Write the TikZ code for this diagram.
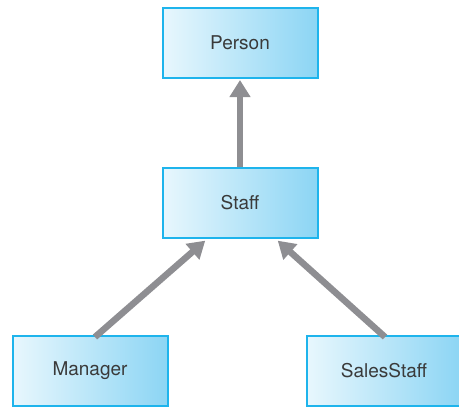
\documentclass[tikz,border=0pt]{standalone}
\usepackage{fontspec}
\setmainfont{TeX Gyre Heros}
\usetikzlibrary{arrows.meta}
\definecolor{boxborder}{HTML}{1EB4EC}
\definecolor{boxleft}{HTML}{E8F7FD}
\definecolor{boxright}{HTML}{8CD5F4}
\definecolor{arrowgray}{HTML}{8E8E92}
\definecolor{txtgray}{HTML}{3A3A3A}
\begin{document}
\begin{tikzpicture}[x=1pt,y=-1pt,
  classbox/.style={draw=boxborder, line width=2pt, left color=boxleft, right color=boxright,
    minimum width=155pt, minimum height=70pt, inner sep=0pt, font=\fontsize{19}{22}\selectfont, text=txtgray},
  inherit/.style={draw=arrowgray, line width=6.5pt, -{Triangle[width=20pt,length=17pt]}, arrowgray, shorten >=1pt}]
\useasboundingbox (0,0) rectangle (459,407);
\node[classbox] (person) at (240,43) {Person};
\node[classbox] (staff) at (240,203) {Staff};
\node[classbox] (manager) at (90,371) {Manager};
\node[classbox] (sales) at (384,371) {SalesStaff};
\coordinate (m0) at (95,337);
\coordinate (m1) at (206,240);
\coordinate (s0) at (385,337);
\coordinate (s1) at (277,240);
\draw[inherit] (staff.north) -- (person.south);
\draw[inherit] (m0) -- (m1);
\draw[inherit] (s0) -- (s1);
\end{tikzpicture}
\end{document}
